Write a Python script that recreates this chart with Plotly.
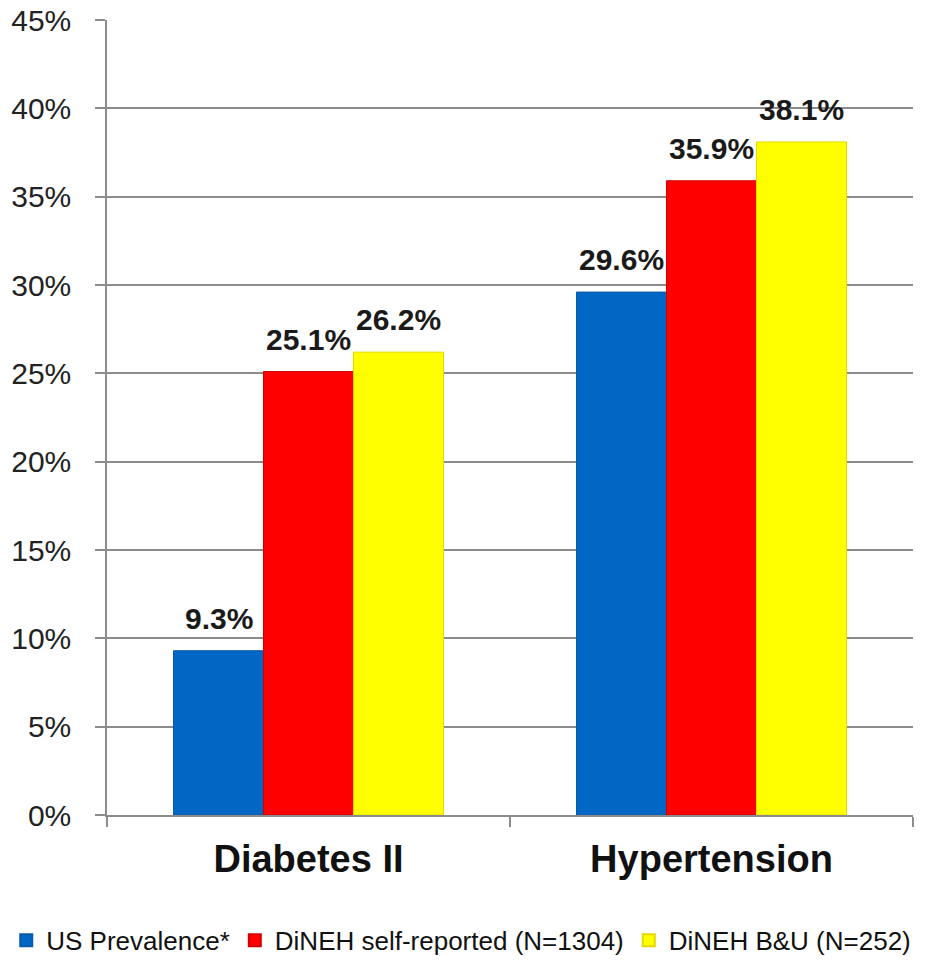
import plotly.graph_objects as go

categories = ["Diabetes II", "Hypertension"]
series_names = ["US Prevalence*", "DiNEH self-reported (N=1304)", "DiNEH B&U (N=252)"]
us_prevalence = [9.3, 29.6]
dineh_self_reported = [25.1, 35.9]
dineh_bu = [26.2, 38.1]
y_ticks = [0, 5, 10, 15, 20, 25, 30, 35, 40, 45]
y_tick_labels = [f"{v}%" for v in y_ticks]

values = [us_prevalence, dineh_self_reported, dineh_bu]
colors = ["#0068C4", "#FF0000", "#FFFF00"]
edge_colors = ["#0A5AA8", "#D00000", "#E6D800"]

fig = go.Figure()
for name, vals, col, edge in zip(series_names, values, colors, edge_colors):
    fig.add_trace(go.Bar(
        x=categories, y=vals, name=name,
        marker=dict(color=col, line=dict(color=edge, width=1)),
        hoverinfo="skip",
    ))

# value labels above each bar, offset to sit over its group slot
bar_px = 90
for i, vals in enumerate(values):
    for cat, v in zip(categories, vals):
        fig.add_annotation(
            x=cat, y=v, text=f"<b>{v:.1f}%</b>", showarrow=False,
            xshift=(i - 1) * bar_px, yshift=14, yanchor="bottom",
            font=dict(family="Liberation Sans, Arial, sans-serif", size=30, color="#1a1a1a"),
        )

fig.update_layout(
    width=932, height=963,
    margin=dict(l=107, r=19, t=20, b=148, autoexpand=False),
    plot_bgcolor="white", paper_bgcolor="white",
    barmode="group", bargap=0.33, bargroupgap=0,
    showlegend=True,
    legend=dict(
        orientation="h", x=-0.125, xanchor="left",
        y=-0.128, yanchor="top",
        font=dict(family="Liberation Sans, Arial, sans-serif", size=26, color="#111"),
        itemsizing="constant", traceorder="normal", itemwidth=30,
        tracegroupgap=0,
    ),
    font=dict(family="Liberation Sans, Arial, sans-serif", color="#222"),
)

fig.update_yaxes(
    range=[0, 45], tickvals=y_ticks, ticktext=y_tick_labels,
    showgrid=True, gridcolor="#8c8c8c", gridwidth=1.5,
    showline=True, linecolor="#8c8c8c", linewidth=1.5,
    ticks="outside", ticklen=10, tickcolor="#8c8c8c", tickwidth=1.5,
    tickfont=dict(size=30, color="#222"), ticklabelstandoff=18,
    zeroline=False,
)
fig.update_xaxes(
    showline=True, linecolor="#8c8c8c", linewidth=1.5,
    ticks="outside", ticklen=10, tickcolor="#8c8c8c", tickwidth=1.5,
    tickson="boundaries", ticklabelstandoff=10,
    tickfont=dict(size=38, color="#111", family="Liberation Sans, Arial, sans-serif"),
    tickprefix="<b>", ticksuffix="</b>",
)

fig.write_html("out.html")
